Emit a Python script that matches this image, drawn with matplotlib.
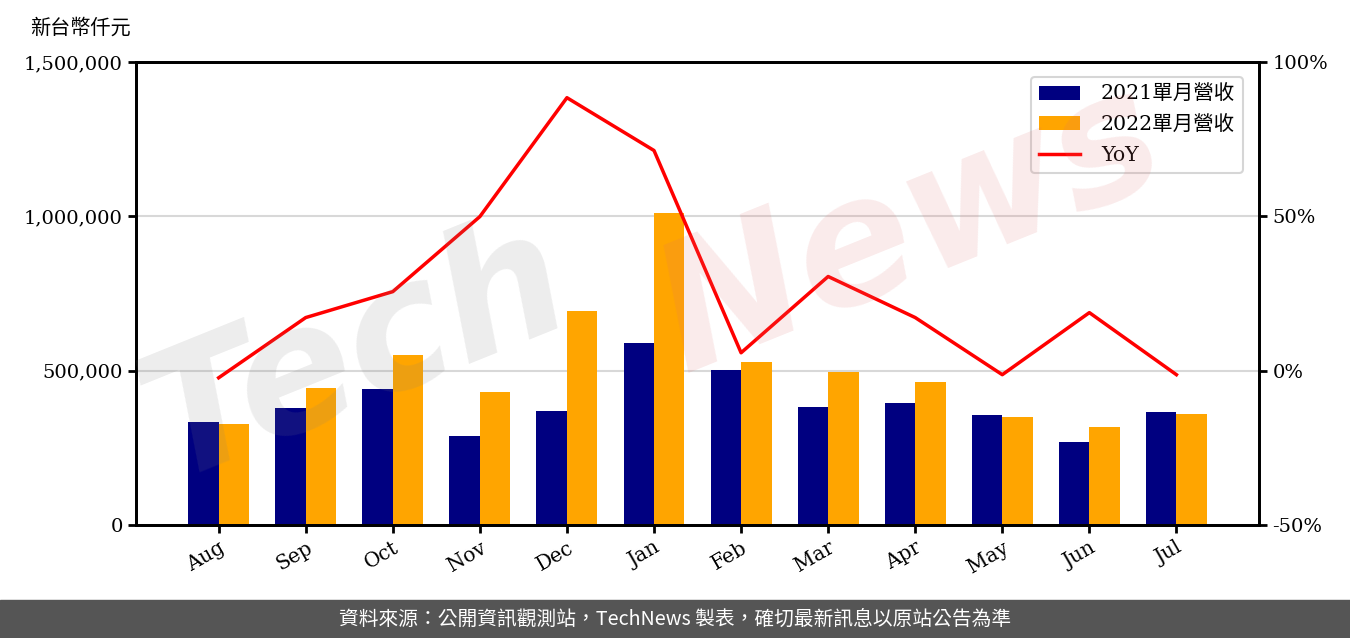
import numpy as np
import matplotlib
matplotlib.use("Agg")
import matplotlib.pyplot as plt
from matplotlib.ticker import FuncFormatter

plt.rcParams['font.family'] = ['DejaVu Serif', 'Noto Sans CJK TC']

months = ['Aug', 'Sep', 'Oct', 'Nov', 'Dec', 'Jan', 'Feb', 'Mar', 'Apr', 'May', 'Jun', 'Jul']
rev_2021 = [333700, 379000, 440600, 288300, 369300, 589600, 502100, 382300, 395200, 356400, 268900, 366100]
rev_2022 = [327200, 443800, 550700, 430900, 693300, 1010800, 528000, 495700, 463300, 349900, 317500, 359600]
yoy = [-2.3, 17.2, 25.6, 49.9, 88.4, 71.3, 5.8, 30.5, 17.2, -1.3, 18.8, -1.3]

fig = plt.figure(figsize=(13.5, 6.38), dpi=100)
ax = fig.add_axes([0.1007, 0.177, 0.832, 0.726])
x = np.arange(len(months))
w = 0.35

ax.bar(x - w / 2, rev_2021, w, color='#000080', label='2021單月營收', zorder=2)
ax.bar(x + w / 2, rev_2022, w, color='#ffa500', label='2022單月營收', zorder=2)
ax.set_ylim(0, 1500000)
ax.set_yticks([0, 500000, 1000000, 1500000])
ax.yaxis.set_major_formatter(FuncFormatter(lambda v, p: '{:,.0f}'.format(v)))
ax.grid(axis='y', color='#d8d8d8', lw=1.5, zorder=0)
ax.set_xlim(-0.95, 11.95)
ax.set_xticks(x)
ax.set_xticklabels(months, rotation=30, ha='right', rotation_mode='anchor')
ax.tick_params(labelsize=14, width=2, length=6)
ax.tick_params(axis='x', labelsize=14.5)
for s in ax.spines.values():
    s.set_linewidth(2)

ax2 = ax.twinx()
line, = ax2.plot(x, yoy, color='red', lw=2.5, label='YoY')
ax2.set_ylim(-50, 100)
ax2.set_yticks([-50, 0, 50, 100])
ax2.yaxis.set_major_formatter(FuncFormatter(lambda v, p: '{:.0f}%'.format(v)))
ax2.tick_params(labelsize=14, width=2, length=6)
for s in ax2.spines.values():
    s.set_linewidth(2)

h1, l1 = ax.get_legend_handles_labels()
leg = ax2.legend(h1 + [line], l1 + ['YoY'], loc='upper right', fontsize=14.8,
                 handlelength=2.0, borderpad=0.4, labelspacing=0.55,
                 handletextpad=1.0, bbox_to_anchor=(0.995, 0.99))
leg.get_frame().set_edgecolor('#cccccc')
leg.get_frame().set_linewidth(1.5)

fig.text(0.022, 0.957, '新台幣仟元', fontsize=14.5, va='center', ha='left')

# watermark
fig.text(0.09, 0.25, 'Tech', fontsize=125, style='italic', fontweight='bold',
         family='DejaVu Sans', color='#808080', alpha=0.14, rotation=22, zorder=10)
fig.text(0.47, 0.42, 'News', fontsize=125, style='italic', fontweight='bold',
         family='DejaVu Sans', color='#e07070', alpha=0.14, rotation=22, zorder=10)

# footer
fig.patches.append(plt.Rectangle((0, 0), 1, 0.06, transform=fig.transFigure,
                                 color='#555555', zorder=0))
fig.text(0.5, 0.03, '資料來源：公開資訊觀測站，TechNews 製表，確切最新訊息以原站公告為準',
         color='white', fontsize=14.2, ha='center', va='center',
         family=['Noto Sans CJK TC', 'DejaVu Sans'])

fig.savefig('out.png', dpi=100)
